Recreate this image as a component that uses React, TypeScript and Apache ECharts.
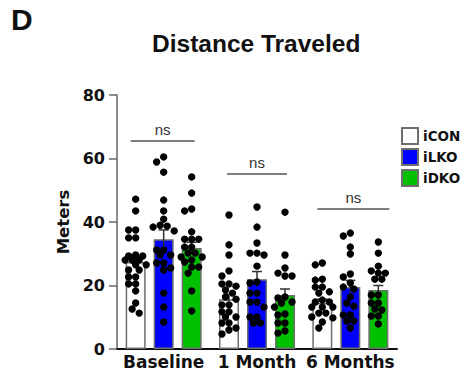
import React, { useEffect, useRef } from "react";
import * as echarts from "echarts";

// ---------- data ----------
const categories = ["Baseline", "1 Month", "6 Months"];
const seriesNames = ["iCON", "iLKO", "iDKO"];
const yTicks = [0, 20, 40, 60, 80];

const iconMeans = [27.4, 15.7, 14.5];
const ilkoMeans = [34.6, 22.0, 19.5];
const idkoMeans = [31.8, 17.0, 18.6];

const iconSem = [1.9, 1.6, 1.2];
const ilkoSem = [2.9, 2.4, 2.1];
const idkoSem = [1.8, 1.9, 1.4];

const iconBaseline = [47.2, 43.5, 37.5, 37.5, 35, 35, 29.3, 29.3, 29.6, 28, 28, 28, 26.5, 26.5, 24.9, 24.9, 22.7, 22.7, 20.5, 20.5, 18.3, 14.5, 12.6, 11.3];
const iconMonth1 = [42.2, 32.8, 29.6, 24.6, 23, 20.5, 20.5, 19.8, 18.6, 17.6, 16.4, 15.7, 13.9, 13.9, 11.7, 11.7, 10.1, 10.1, 8.2, 8.2, 6.6, 6.0, 4.7];
const iconMonth6 = [27.1, 26.5, 22, 21.7, 19.5, 19.5, 18, 17.6, 15.4, 14.8, 14.8, 13.2, 13.2, 13.2, 11.3, 11.3, 10.1, 9.8, 8.5, 6.6];

const ilkoBaseline = [60.5, 58.9, 55.7, 46.9, 43.5, 40.9, 39, 38.7, 38.4, 37.2, 31.2, 31.2, 29.6, 29.6, 27.1, 27.1, 25.5, 24.9, 17.6, 13.2, 8.5];
const ilkoMonth1 = [44.7, 38.4, 33.4, 30.2, 30.2, 29.6, 26.1, 21.1, 20.8, 17.6, 17.6, 14.8, 14.8, 13.2, 10.1, 10.1, 8.2, 8.2];
const ilkoMonth6 = [36.5, 35.6, 32.1, 29.9, 23.6, 22.7, 20.8, 19.5, 18.9, 16.4, 14.5, 13.5, 10.7, 10.7, 8.8, 8.8, 6.6];

const idkoBaseline = [54.2, 49.1, 44.1, 43.5, 36.9, 34.6, 34.6, 34.6, 32.1, 32.1, 30.2, 30.2, 29, 29, 28, 27.4, 25.8, 25.8, 23.9, 18.3, 12];
const idkoMonth1 = [43.1, 29.6, 25.5, 23.9, 23, 23, 16.4, 16.1, 14.8, 14.5, 13.2, 11, 10.7, 8.2, 8.2, 5.7, 5.0];
const idkoMonth6 = [33.7, 30.2, 26.1, 24.6, 23.9, 23.9, 22, 22, 17, 17, 14.5, 14.5, 12.6, 12.3, 10.4, 10.4, 7.9];

const nsLevels = [65.5, 55.1, 44.1];
const nsLabel = "ns";

// ---------- styles ----------
const colors = ["#FFFFFF", "#0000FF", "#00C000"];
const BAR_W = 20;
const BAR_GAP = 8;
const DOT_R = 3.7;
const BRACKET_HALF = [32, 30, 36];
const BRACKET_SHIFT = [-1, 0, 3];
const AXIS_FONT = "DejaVu Sans";
const TITLE_FONT = "Liberation Sans";

const means = [iconMeans, ilkoMeans, idkoMeans];
const sems = [iconSem, ilkoSem, idkoSem];
const dotGroups = [
  [iconBaseline, iconMonth1, iconMonth6],
  [ilkoBaseline, ilkoMonth1, ilkoMonth6],
  [idkoBaseline, idkoMonth1, idkoMonth6],
];

function swarm(values: number[], pxPerUnit: number, r: number): number[] {
  const placed: { x: number; y: number }[] = [];
  const order = values.map((_, i) => i).sort((a, b) => values[b] - values[a]);
  const offs = new Array(values.length).fill(0);
  const step = r * 0.95;
  const cands = [0, -1, 1, -2, 2, -3, 3].map((k) => k * step);
  const minD = 2 * r * 0.9;
  for (const i of order) {
    const y = values[i] * pxPerUnit;
    let best = cands[0];
    let bestScore = -1;
    for (const c of cands) {
      let md = Infinity;
      for (const p of placed) md = Math.min(md, Math.hypot(p.x - c, p.y - y));
      if (md >= minD) { best = c; bestScore = Infinity; break; }
      if (md > bestScore) { bestScore = md; best = c; }
    }
    placed.push({ x: best, y });
    offs[i] = best;
  }
  return offs;
}

export default function App() {
  const ref = useRef<HTMLDivElement>(null);
  useEffect(() => {
    if (!ref.current) return;
    document.body.style.margin = "0";
    const chart = echarts.init(ref.current, undefined, { renderer: "svg" });

    const barSeries = seriesNames.map((name, k) => ({
      name,
      type: "bar",
      data: means[k],
      barWidth: BAR_W,
      barGap: `${(BAR_GAP / BAR_W) * 100}%`,
      itemStyle: { color: colors[k], borderColor: "#6e6e6e", borderWidth: 1.5 },
      z: 2,
    }));

    const errSeries = seriesNames.map((name, k) => ({
      name: name + "-err",
      type: "custom",
      z: 3,
      silent: true,
      data: means[k].map((m, c) => [c, m, sems[k][c]]),
      renderItem: (params: any, api: any) => {
        const c = api.value(0);
        const m = api.value(1);
        const s = api.value(2);
        const off = (k - 1) * (BAR_W + BAR_GAP);
        const top = api.coord([c, m + s]);
        const bot = api.coord([c, m - s]);
        const x = top[0] + off;
        const st = { stroke: "#333333", lineWidth: 1.5 };
        return {
          type: "group",
          children: [
            { type: "line", shape: { x1: x, y1: top[1], x2: x, y2: bot[1] }, style: st },
            { type: "line", shape: { x1: x - 5, y1: top[1], x2: x + 5, y2: top[1] }, style: st },
          ],
        };
      },
    }));

    const dotSeries = seriesNames.map((name, k) => {
      const flat: number[][] = [];
      dotGroups[k].forEach((arr, c) => arr.forEach((v, j) => flat.push([c, v, j])));
      let cache: number[][] | null = null;
      return {
        name: name + "-dots",
        type: "custom",
        z: 4,
        silent: true,
        data: flat,
        renderItem: (params: any, api: any) => {
          const c = api.value(0);
          const v = api.value(1);
          const j = api.value(2);
          if (!cache) {
            const ppu = Math.abs(api.size([0, 1])[1]);
            cache = dotGroups[k].map((arr) => swarm(arr, ppu, DOT_R));
          }
          const pt = api.coord([c, v]);
          const off = (k - 1) * (BAR_W + BAR_GAP);
          return {
            type: "circle",
            shape: { cx: pt[0] + off + cache[c][j], cy: pt[1], r: DOT_R },
            style: { fill: "#000000" },
          };
        },
      };
    });

    const bracketSeries = {
      name: "ns",
      type: "custom",
      z: 5,
      silent: true,
      data: nsLevels.map((lv, c) => [c, lv]),
      renderItem: (params: any, api: any) => {
        const c = api.value(0);
        const lv = api.value(1);
        const pt = api.coord([c, lv]);
        const cx = pt[0] + BRACKET_SHIFT[c];
        const h = BRACKET_HALF[c];
        return {
          type: "group",
          children: [
            {
              type: "line",
              shape: { x1: cx - h, y1: pt[1], x2: cx + h, y2: pt[1] },
              style: { stroke: "#555555", lineWidth: 1.5 },
            },
            {
              type: "text",
              x: cx,
              y: pt[1] - 4,
              style: {
                text: nsLabel,
                fill: "#333333",
                font: `normal 15px "${TITLE_FONT}"`,
                align: "center",
                verticalAlign: "bottom",
              },
            },
          ],
        };
      },
    };

    const option: any = {
      animation: false,
      backgroundColor: "#ffffff",
      title: [
        {
          text: "D",
          left: 11,
          top: 4,
          padding: 0,
          textStyle: { fontFamily: TITLE_FONT, fontWeight: "bold", fontSize: 30, color: "#111" },
        },
        {
          text: "Distance Traveled",
          left: 152,
          top: 31,
          padding: 0,
          textStyle: { fontFamily: TITLE_FONT, fontWeight: "bold", fontSize: 24.5, color: "#111" },
        },
      ],
      legend: {
        data: seriesNames,
        orient: "vertical",
        left: 401,
        top: 127,
        padding: 0,
        icon: "rect",
        itemWidth: 16,
        itemHeight: 16,
        itemGap: 3,
        textStyle: { fontFamily: AXIS_FONT, fontWeight: "bold", fontSize: 13.5, color: "#111" },
        selectedMode: false,
      },
      grid: { left: 117, right: 70, top: 95, bottom: 26, containLabel: false },
      xAxis: {
        type: "category",
        data: categories,
        axisLine: { lineStyle: { color: "#111", width: 2 } },
        axisTick: { show: false },
        axisLabel: {
          fontFamily: AXIS_FONT,
          fontWeight: "bold",
          fontSize: 17,
          color: "#111",
          margin: 4,
          interval: 0,
        },
      },
      yAxis: {
        type: "value",
        min: yTicks[0],
        max: yTicks[yTicks.length - 1],
        interval: 20,
        name: "Meters",
        nameLocation: "middle",
        nameGap: 44,
        nameRotate: 90,
        nameTextStyle: { fontFamily: AXIS_FONT, fontWeight: "bold", fontSize: 16.5, color: "#111" },
        axisLine: { show: true, lineStyle: { color: "#666", width: 1.5 } },
        axisTick: { show: true, length: 8, lineStyle: { color: "#666", width: 1.5 } },
        splitLine: { show: false },
        axisLabel: {
          fontFamily: AXIS_FONT,
          fontWeight: "bold",
          fontSize: 16,
          color: "#111",
          margin: 12,
        },
      },
      series: [...barSeries, ...errSeries, ...dotSeries, bracketSeries],
    };
    chart.setOption(option);
    return () => chart.dispose();
  }, []);
  return <div ref={ref} style={{ width: 467, height: 375 }} />;
}
